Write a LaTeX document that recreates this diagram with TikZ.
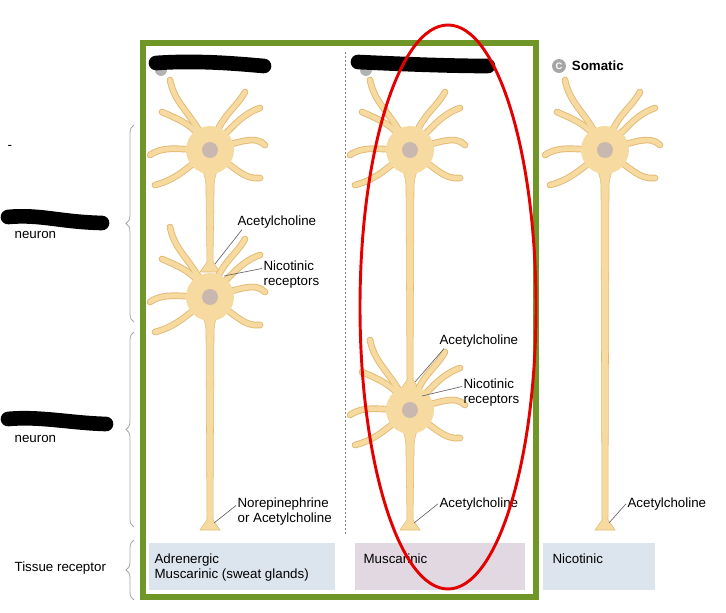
\documentclass[tikz,border=0pt]{standalone}
\usepackage{fontspec}
\setmainfont{Liberation Sans}
\usetikzlibrary{calc,positioning,decorations.pathreplacing}
\definecolor{cellfill}{RGB}{246,218,160}
\definecolor{celledge}{RGB}{226,186,118}
\definecolor{nucl}{RGB}{200,184,176}
\definecolor{frame}{RGB}{112,150,40}
\definecolor{boxblue}{RGB}{220,228,238}
\definecolor{boxmauve}{RGB}{226,216,226}

\newcommand\dendrites{-20/-40/-35/-45/-40/-70, 10/-35/25/-40/35/-58, -30/0/-45/-5/-60/5,
  30/-8/45/-15/55/-5, -25/20/-35/30/-55/35, 25/18/35/30/50/28, -15/-25/-30/-30/-48/-38,
  20/-20/30/-35/50/-42}
\newcommand\cellbody[3]{% name, x, y
  \begin{scope}[shift={(#2,#3)}]
    \foreach \ax/\ay/\bx/\by/\ex/\ey in \dendrites{
      \draw[celledge, line width=5pt, line cap=round] (0,0) .. controls (\ax,\ay) and (\bx,\by) .. (\ex,\ey);
    }
    \foreach \ax/\ay/\bx/\by/\ex/\ey in \dendrites{
      \draw[cellfill, line width=3.6pt, line cap=round] (0,0) .. controls (\ax,\ay) and (\bx,\by) .. (\ex,\ey);
    }
    \fill[cellfill] (0,0) circle[radius=24];
    \fill[nucl] (0,0) coordinate (#1) circle[radius=8];
  \end{scope}}
\newcommand\axon[3]{% x, ytop, yend
  \filldraw[cellfill, draw=celledge, line width=0.4pt]
    (#1-9,#2) .. controls (#1-4,#2+15) .. (#1-4,#2+30) -- (#1-3,#3) -- (#1-10,#3+10) -- (#1+10,#3+10)
    -- (#1+3,#3) -- (#1+4,#2+30) .. controls (#1+4,#2+15) .. (#1+9,#2) -- cycle;}

\begin{document}
\begin{tikzpicture}[x=0.75pt, y=-0.75pt,
    lbl/.style={font=\fontsize{10}{11.5}\selectfont, align=left, inner sep=1pt, anchor=north west},
    lead/.style={gray!80!black, line width=0.5pt},
    brace/.style={decorate, decoration={brace, amplitude=6pt}, gray!70, line width=0.6pt},
    recbox/.style={draw=none, anchor=north west, minimum width=#1, minimum height=35pt,
        align=left, text depth=0pt, inner sep=4pt},
    redact/.style={line width=11pt, line cap=round, black},
  ]
  \useasboundingbox (0,0) rectangle (726,613);

  % receptor boxes
  \node[recbox=139.5pt, fill=boxblue] (boxA) at (149,543) {};
  \node[lbl] (txtA) at (153,552) {Adrenergic\\Muscarinic (sweat glands)};
  \node[recbox=127.5pt, fill=boxmauve] (boxB) at (355,543) {};
  \node[lbl] (txtB) at (362,552) {Muscarinic};
  \node[recbox=84pt, fill=boxblue] (boxC) at (543,543) {};
  \node[lbl] (txtC) at (551,552) {Nicotinic};

  % separator
  \draw[gray, line width=0.5pt, dash pattern=on 1.5pt off 1.5pt] (345,52) -- (345,535);

  % axons
  \axon{210}{165}{262}
  \axon{210}{310}{520}
  \axon{410}{165}{380}
  \axon{410}{425}{520}
  \axon{605}{165}{520}

  % cell bodies
  \cellbody{somaA1}{210}{150}
  \cellbody{somaA2}{210}{297}
  \cellbody{somaB1}{410}{150}
  \cellbody{somaB2}{410}{410}
  \cellbody{somaC}{605}{150}

  % labels and leaders
  \node[lbl] (achA) at (236,214) {Acetylcholine};
  \coordinate (termA) at (215,264);
  \draw[lead] (achA.south west) ++(6,0) -- (termA);
  \node[lbl] (nicA) at (262,259) {Nicotinic\\receptors};
  \coordinate (recA) at (224,276);
  \draw[lead] (nicA.west) ++(0,-6) -- (recA);
  \node[lbl] (neA) at (236,496) {Norepinephrine\\or Acetylcholine};
  \coordinate (termA2) at (214,523);
  \draw[lead] (neA.west) ++(0,-6) -- (termA2);

  \node[lbl] (achB) at (438,333) {Acetylcholine};
  \coordinate (termB) at (415,382);
  \draw[lead] (achB.south west) ++(6,0) -- (termB);
  \node[lbl] (nicB) at (462,377) {Nicotinic\\receptors};
  \coordinate (recB) at (422,396);
  \draw[lead] (nicB.west) ++(0,-6) -- (recB);
  \node[lbl] (achB2) at (438,496) {Acetylcholine};
  \coordinate (termB2) at (414,523);
  \draw[lead] (achB2.west) -- (termB2);

  \node[lbl] (achC) at (626,496) {Acetylcholine};
  \coordinate (termC) at (609,523);
  \draw[lead] (achC.west) -- (termC);

  % column headings
  \node[circle, fill=gray!70, text=white, inner sep=1.2pt, font=\fontsize{7}{7}\bfseries] (markC) at (559,66) {C};
  \node[lbl, anchor=west, font=\fontsize{10}{11}\bfseries, right=3pt of markC] (somatic) {Somatic};
  \fill[gray!60] (161,70) circle[radius=6];
  \fill[gray!60] (366,70) circle[radius=6];
  \draw[redact] (156,63) .. controls (200,60) and (240,64) .. (264,66);
  \draw[redact] (358,62) .. controls (400,64) and (450,66) .. (488,66);

  % left side
  \draw[brace] (134,322) -- (134,125) coordinate[midway] (brPre);
  \draw[brace] (134,527) -- (134,332) coordinate[midway] (brPost);
  \draw[brace] (134,600) -- (134,540) coordinate[midway] (brTis);
  \node[lbl] (dash) at (6,144) {-};
  \node[lbl] (preN) at (13,230) {neuron};
  \node[lbl] (postN) at (13,434) {neuron};
  \node[lbl] (tissue) at (13,560) {Tissue receptor};
  \draw[redact] (8,217) .. controls (40,214) and (60,222) .. (102,223);
  \draw[redact] (8,419) .. controls (40,416) and (70,423) .. (106,424);

  % frame and highlight
  \draw[frame, line width=4pt] (143,43) rectangle (536,597);
  \draw[red!90!black, line width=2.2pt] (448,307) ellipse[x radius=88, y radius=282];
\end{tikzpicture}
\end{document}
